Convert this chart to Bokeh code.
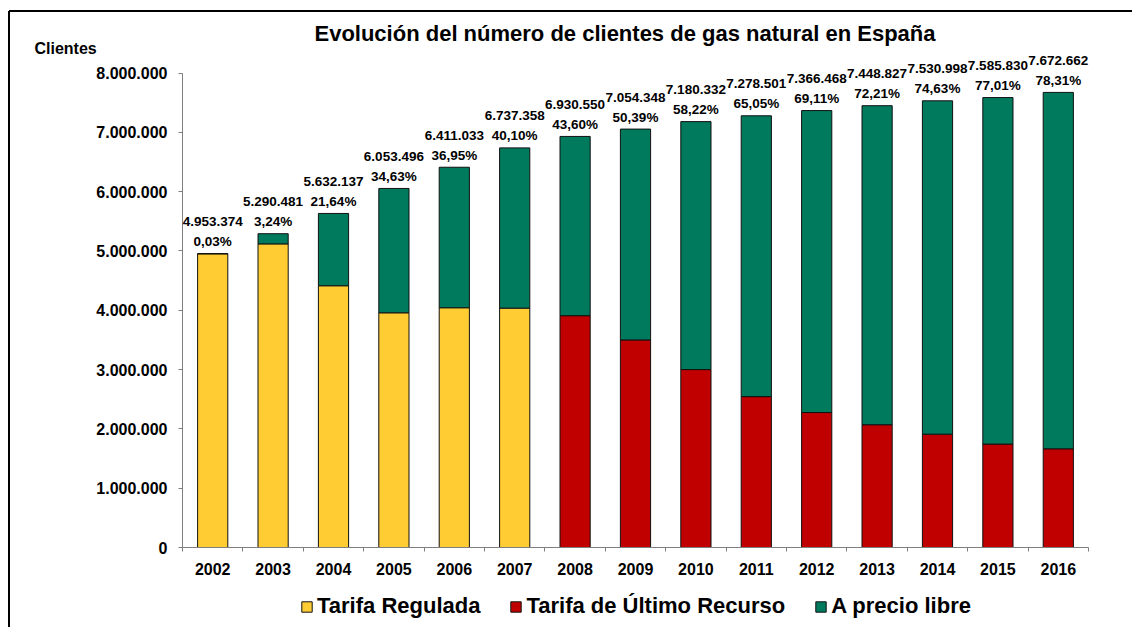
from bokeh.plotting import figure
from bokeh.models import (Range1d, FixedTicker, LabelSet, Label, ColumnDataSource,
                          Legend, LegendItem)
from bokeh.core.properties import value
from bokeh.embed import file_html
from bokeh.resources import INLINE

# ---------------- data ----------------
years = ["2002", "2003", "2004", "2005", "2006", "2007", "2008", "2009",
         "2010", "2011", "2012", "2013", "2014", "2015", "2016"]
totals = [4953374, 5290481, 5632137, 6053496, 6411033, 6737358, 6930550, 7054348,
          7180332, 7278501, 7366468, 7448827, 7530998, 7585830, 7672662]
total_labels = ["4.953.374", "5.290.481", "5.632.137", "6.053.496", "6.411.033",
                "6.737.358", "6.930.550", "7.054.348", "7.180.332", "7.278.501",
                "7.366.468", "7.448.827", "7.530.998", "7.585.830", "7.672.662"]
pct_libre_labels = ["0,03%", "3,24%", "21,64%", "34,63%", "36,95%", "40,10%", "43,60%",
                    "50,39%", "58,22%", "65,05%", "69,11%", "72,21%", "74,63%",
                    "77,01%", "78,31%"]
tarifa_regulada = [4951900, 5119000, 4413300, 3957200, 4042200, 4035700, 0, 0,
                   0, 0, 0, 0, 0, 0, 0]
tarifa_tur = [0, 0, 0, 0, 0, 0, 3908800, 3499700,
              3000000, 2543800, 2275500, 2070000, 1910600, 1744000, 1664200]
y_ticks = [0, 1000000, 2000000, 3000000, 4000000, 5000000, 6000000, 7000000, 8000000]
y_tick_labels = ["0", "1.000.000", "2.000.000", "3.000.000", "4.000.000",
                 "5.000.000", "6.000.000", "7.000.000", "8.000.000"]
series_names = ["Tarifa Regulada", "Tarifa de Último Recurso", "A precio libre"]
title_text = "Evolución del número de clientes de gas natural en España"
y_title = "Clientes"

YELLOW = "#FFCC33"
RED = "#C00000"
GREEN = "#007A5C"
FONT = "Liberation Sans"

# ---------------- layout (pixels) ----------------
W_PX, H_PX = 1132, 627
X0_PX, Y0_PX = 182.0, 547.0          # position of x=0 / y=0 on the canvas
PX_PER_CAT = 60.4                     # width of one category
PX_PER_UNIT_Y = 474.5 / 8000000.0     # 8.000.000 spans 474.5 px


def px_x(px):
    return (px - X0_PX) / PX_PER_CAT


def px_y(py):
    return (Y0_PX - py) / PX_PER_UNIT_Y


n = len(years)
xs = [i + 0.5 for i in range(n)]
base_libre = [r + t for r, t in zip(tarifa_regulada, tarifa_tur)]

reg_idx = [i for i in range(n) if tarifa_regulada[i] > 0]
tur_idx = [i for i in range(n) if tarifa_tur[i] > 0]

src_reg = ColumnDataSource(dict(x=[xs[i] for i in reg_idx], top=[tarifa_regulada[i] for i in reg_idx]))
src_tur = ColumnDataSource(dict(x=[xs[i] for i in tur_idx], top=[tarifa_tur[i] for i in tur_idx]))
src_lib = ColumnDataSource(dict(x=xs, bottom=base_libre, top=totals))
src_lab = ColumnDataSource(dict(x=xs, y=totals, tot=total_labels, pct=pct_libre_labels))

p = figure(width=W_PX, height=H_PX, output_backend="svg", toolbar_location=None,
           x_range=Range1d(px_x(0), px_x(W_PX)), y_range=Range1d(px_y(H_PX), px_y(0)),
           min_border_left=0, min_border_right=0, min_border_top=0,
           min_border_bottom=0)
p.outline_line_color = None
p.xgrid.grid_line_color = None
p.ygrid.grid_line_color = None
p.background_fill_color = "white"
p.border_fill_color = "white"

# outer chart frame: top and left edges
p.segment(x0=[px_x(8.5), px_x(8.5)], y0=[px_y(10.5), px_y(10.5)],
          x1=[px_x(W_PX + 20), px_x(8.5)], y1=[px_y(10.5), px_y(H_PX + 20)],
          line_color="#000000", line_width=2)

W = 0.5
r_reg = p.vbar(x="x", top="top", bottom=0, width=W, source=src_reg,
               fill_color=YELLOW, line_color="#111111", line_width=1)
r_tur = p.vbar(x="x", top="top", bottom=0, width=W, source=src_tur,
               fill_color=RED, line_color="#111111", line_width=1)
r_lib = p.vbar(x="x", top="top", bottom="bottom", width=W, source=src_lib,
               fill_color=GREEN, line_color="#111111", line_width=1)

# axes (drawn at the data origin inside the full-canvas frame)
xa = p.xaxis[0]
xa.fixed_location = 0
xa.bounds = (0, n)
xa.ticker = FixedTicker(ticks=xs, minor_ticks=list(range(n + 1)))
xa.major_label_overrides = {xs[i]: years[i] for i in range(n)}
xa.major_tick_out = 0
xa.major_tick_in = 0
xa.minor_tick_out = 4
xa.minor_tick_in = 0
xa.minor_tick_line_color = "#7f7f7f"
xa.axis_line_color = "#7f7f7f"
xa.major_label_standoff = 11
xa.major_label_text_font = FONT
xa.major_label_text_font_style = "bold"
xa.major_label_text_font_size = "16px"
xa.major_label_text_color = "#000000"

ya = p.yaxis[0]
ya.fixed_location = 0
ya.bounds = (0, 8000000)
ya.ticker = FixedTicker(ticks=y_ticks, minor_ticks=[])
ya.major_label_overrides = {y_ticks[i]: y_tick_labels[i] for i in range(len(y_ticks))}
ya.major_tick_out = 4
ya.major_tick_in = 0
ya.major_tick_line_color = "#7f7f7f"
ya.axis_line_color = "#7f7f7f"
ya.major_label_standoff = 11
ya.major_label_text_font = FONT
ya.major_label_text_font_style = "bold"
ya.major_label_text_font_size = "16px"
ya.major_label_text_color = "#000000"

# data labels
lab_pct = LabelSet(x="x", y="y", text="pct", source=src_lab, y_offset=12,
                   text_align="center", text_baseline="middle",
                   text_font=value(FONT), text_font_style="bold", text_font_size="13.5px",
                   text_color="#000000")
lab_tot = LabelSet(x="x", y="y", text="tot", source=src_lab, y_offset=32,
                   text_align="center", text_baseline="middle",
                   text_font=value(FONT), text_font_style="bold", text_font_size="13.5px",
                   text_color="#000000")
p.add_layout(lab_pct)
p.add_layout(lab_tot)

# title and y title
p.add_layout(Label(x=px_x(624.5), y=px_y(33), text=title_text,
                   text_align="center", text_baseline="middle", text_font=FONT,
                   text_font_style="bold", text_font_size="22px", text_color="#000000"))
p.add_layout(Label(x=px_x(34), y=px_y(47.5), text=y_title,
                   text_align="left", text_baseline="middle", text_font=FONT,
                   text_font_style="bold", text_font_size="16px", text_color="#000000"))

legend = Legend(items=[LegendItem(label=series_names[0], renderers=[r_reg]),
                       LegendItem(label=series_names[1], renderers=[r_tur]),
                       LegendItem(label=series_names[2], renderers=[r_lib])],
                orientation="horizontal", location=(300, H_PX - 619),
                glyph_width=13, glyph_height=13, label_standoff=4, spacing=29,
                padding=0, margin=0, border_line_color=None,
                background_fill_alpha=0,
                label_text_font=FONT, label_text_font_style="bold",
                label_text_font_size="22px", label_text_color="#000000")
p.add_layout(legend, "center")

open("out.html", "w").write(file_html(p, INLINE))
